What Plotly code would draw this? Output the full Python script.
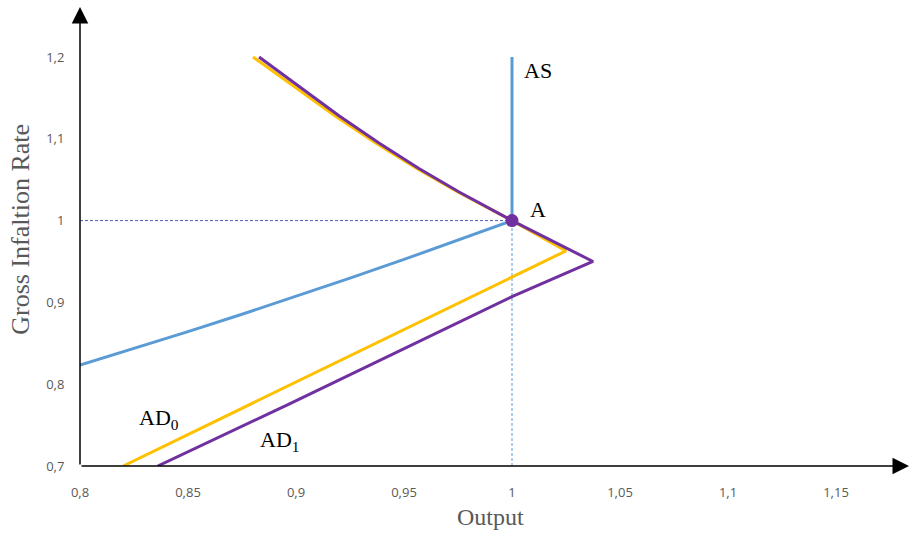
import plotly.graph_objects as go

# ---- data ----
as_x = [0.8, 0.825, 0.85, 0.875, 0.9, 0.925, 0.95, 0.975, 1.0, 1.0]
as_y = [0.8235, 0.8436, 0.8642, 0.8855, 0.9073, 0.9296, 0.9525, 0.976, 1.0, 1.2]

ad0_x = [0.8801, 0.8991, 0.9180, 0.9369, 0.9559, 0.9749, 1.0, 1.025, 0.82]
ad0_y = [1.2, 1.1635, 1.1281, 1.0948, 1.0637, 1.0349, 1.0, 0.963, 0.70]

ad1_x = [0.8829, 0.9014, 0.9199, 0.9384, 0.9569, 0.9755, 1.0, 1.0375, 1.0, 0.897, 0.836]
ad1_y = [1.2, 1.1635, 1.1281, 1.0948, 1.0637, 1.0349, 1.0, 0.95, 0.907, 0.776, 0.70]

eq_x = [1.0]
eq_y = [1.0]

x_ticks = [0.8, 0.85, 0.9, 0.95, 1.0, 1.05, 1.1, 1.15]
x_labels = ["0,8", "0,85", "0,9", "0,95", "1", "1,05", "1,1", "1,15"]
y_ticks = [0.7, 0.8, 0.9, 1.0, 1.1, 1.2]
y_labels = ["0,7", "0,8", "0,9", "1", "1,1", "1,2"]

x_min, x_max = 0.8, 1.1838
y_min, y_max = 0.7, 1.2611

BLUE = "#5b9bd5"
GOLD = "#ffc000"
PURPLE = "#7030a0"
GRAY = "#595959"
SERIF = "Liberation Serif, Times New Roman, serif"

fig = go.Figure()

# dashed guide lines through the equilibrium
fig.add_trace(go.Scatter(x=[x_min, eq_x[0]], y=[eq_y[0], eq_y[0]], mode="lines",
                         line=dict(color="#4a5fb0", width=1, dash="3px,2px"),
                         hoverinfo="skip", showlegend=False))
fig.add_trace(go.Scatter(x=[eq_x[0], eq_x[0]], y=[y_min, eq_y[0]], mode="lines",
                         line=dict(color=BLUE, width=1, dash="3px,2px"),
                         hoverinfo="skip", showlegend=False))

fig.add_trace(go.Scatter(x=as_x, y=as_y, mode="lines", name="AS",
                         line=dict(color=BLUE, width=3), showlegend=False))
fig.add_trace(go.Scatter(x=ad0_x, y=ad0_y, mode="lines", name="AD0",
                         line=dict(color=GOLD, width=3), showlegend=False))
fig.add_trace(go.Scatter(x=ad1_x, y=ad1_y, mode="lines", name="AD1",
                         line=dict(color=PURPLE, width=3), showlegend=False))
fig.add_trace(go.Scatter(x=eq_x, y=eq_y, mode="markers", name="A",
                         marker=dict(color=PURPLE, size=13), showlegend=False))

annotations = [
    # axes with arrowheads
    dict(x=x_max, y=y_min, ax=x_min, ay=y_min, xref="x", yref="y", axref="x", ayref="y",
         text="", showarrow=True, arrowhead=2, arrowsize=2.2, arrowwidth=1.5,
         arrowcolor="#000000", standoff=0),
    dict(x=x_min, y=y_max, ax=x_min, ay=y_min, xref="x", yref="y", axref="x", ayref="y",
         text="", showarrow=True, arrowhead=2, arrowsize=2.2, arrowwidth=1.5,
         arrowcolor="#000000", standoff=0),
    # curve labels
    dict(x=1.0046, y=1.184, xref="x", yref="y", text="AS", showarrow=False,
         xanchor="left", yanchor="middle", font=dict(family=SERIF, size=22, color="#000000")),
    dict(x=1.0074, y=1.013, xref="x", yref="y", text="A", showarrow=False,
         xanchor="left", yanchor="middle", font=dict(family=SERIF, size=22, color="#000000")),
    dict(x=0.8264, y=0.758, xref="x", yref="y", text="AD<sub>0</sub>", showarrow=False,
         xanchor="left", yanchor="middle", font=dict(family=SERIF, size=22, color="#000000")),
    dict(x=0.8824, y=0.730, xref="x", yref="y", text="AD<sub>1</sub>", showarrow=False,
         xanchor="left", yanchor="middle", font=dict(family=SERIF, size=22, color="#000000")),
    # axis titles
    dict(x=0.99, y=-0.1111, xref="x", yref="paper", text="Output", showarrow=False,
         xanchor="center", yanchor="middle", font=dict(family=SERIF, size=24, color=GRAY)),
    dict(x=-0.0712, y=0.99, xref="paper", yref="y", text="Gross Infaltion Rate", showarrow=False,
         textangle=-90, xanchor="center", yanchor="middle",
         font=dict(family=SERIF, size=26, color=GRAY)),
]

fig.update_layout(
    width=909, height=536,
    margin=dict(l=80, r=0, t=7, b=70),
    paper_bgcolor="white", plot_bgcolor="white",
    annotations=annotations,
    xaxis=dict(range=[x_min, x_max], tickvals=x_ticks, ticktext=x_labels,
               showgrid=False, zeroline=False, showline=False,
               ticks="outside", ticklen=14, tickcolor="rgba(0,0,0,0)",
               tickfont=dict(family="Open Sans", size=13, color=GRAY)),
    yaxis=dict(range=[y_min, y_max], tickvals=y_ticks, ticktext=y_labels,
               showgrid=False, zeroline=False, showline=False,
               ticks="outside", ticklen=12, tickcolor="rgba(0,0,0,0)",
               tickfont=dict(family="Open Sans", size=13, color=GRAY)),
)

# remove the default page margin so the figure fills the window exactly
fig.write_html("out.html",
               config={"displayModeBar": False},
               post_script="document.body.style.margin='0';document.body.style.overflow='hidden';")
